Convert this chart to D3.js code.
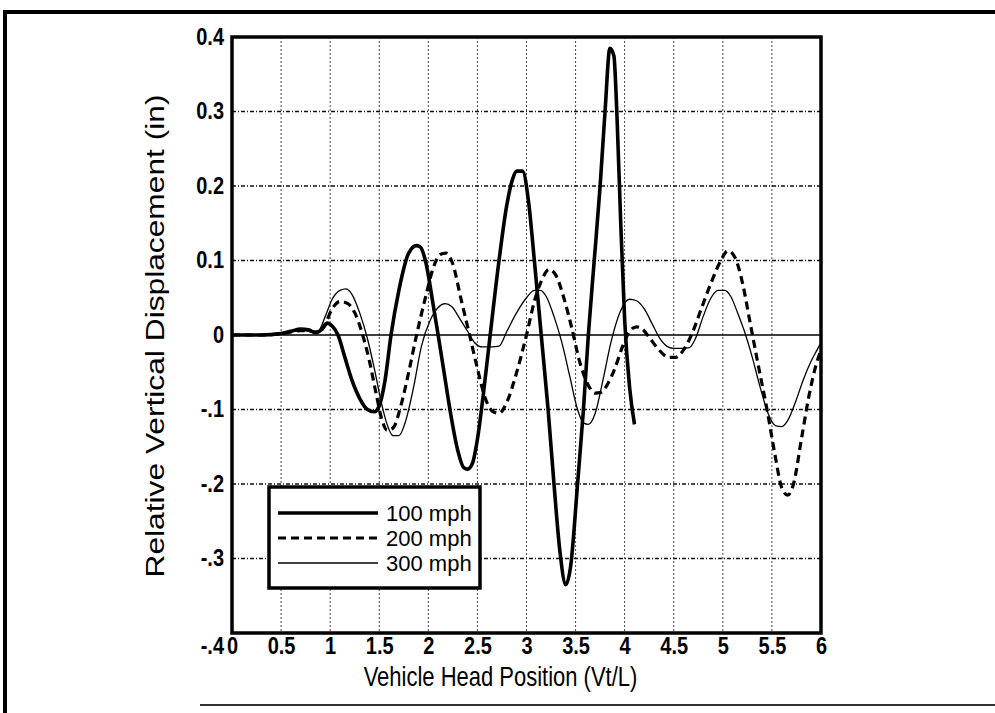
<!DOCTYPE html>
<html>
<head>
<meta charset="utf-8">
<script src="https://cdn.jsdelivr.net/npm/d3@7"></script>
<style>
  html, body { margin: 0; padding: 0; background: #fff; }
  svg { display: block; }
  text { font-family: "Liberation Sans", Arial, sans-serif; fill: #000; }
</style>
</head>
<body>
<svg id="chart" width="995" height="713"></svg>
<script>
// Vehicle head position (Vt/L) and relative vertical displacement (in)
const x100 = [0, 0.3, 0.5, 0.6, 0.7, 0.78, 0.85, 0.92, 0.97, 1.02, 1.08, 1.15, 1.22, 1.3, 1.38, 1.45, 1.5, 1.56, 1.62, 1.7, 1.8, 1.88, 1.92, 1.97, 2.05, 2.1, 2.16, 2.22, 2.3, 2.36, 2.4, 2.45, 2.5, 2.56, 2.63, 2.72, 2.8, 2.86, 2.9, 2.96, 3.02, 3.08, 3.15, 3.22, 3.28, 3.34, 3.4, 3.45, 3.52, 3.58, 3.63, 3.69, 3.75, 3.8, 3.85, 3.89, 3.92, 3.96, 4.0, 4.05, 4.1];
const y100 = [0, 0, 0.002, 0.005, 0.008, 0.007, 0.003, 0.008, 0.016, 0.012, 0, -0.03, -0.06, -0.085, -0.1, -0.103, -0.095, -0.06, 0, 0.06, 0.11, 0.12, 0.118, 0.1, 0.04, 0, -0.05, -0.1, -0.155, -0.178, -0.18, -0.172, -0.14, -0.08, 0, 0.1, 0.175, 0.21, 0.22, 0.22, 0.18, 0.1, 0, -0.1, -0.2, -0.29, -0.335, -0.31, -0.2, -0.1, 0, 0.1, 0.2, 0.3, 0.385, 0.375, 0.3, 0.15, 0.02, -0.07, -0.12];

const x200 = [0, 0.3, 0.5, 0.6, 0.7, 0.8, 0.88, 0.95, 1.02, 1.1, 1.18, 1.25, 1.32, 1.4, 1.47, 1.53, 1.58, 1.64, 1.72, 1.8, 1.88, 1.97, 2.05, 2.12, 2.18, 2.25, 2.33, 2.42, 2.5, 2.58, 2.66, 2.72, 2.8, 2.9, 3.0, 3.08, 3.16, 3.23, 3.3, 3.38, 3.46, 3.54, 3.62, 3.7, 3.76, 3.83, 3.9, 3.98, 4.05, 4.12, 4.18, 4.26, 4.35, 4.45, 4.52, 4.6, 4.68, 4.78, 4.88, 4.98, 5.05, 5.12, 5.2, 5.28, 5.36, 5.45, 5.53, 5.6, 5.66, 5.72, 5.8, 5.88, 5.95, 6.0];
const y200 = [0, 0, 0.002, 0.004, 0.006, 0.005, 0.003, 0.015, 0.035, 0.045, 0.042, 0.03, 0.005, -0.035, -0.08, -0.115, -0.128, -0.125, -0.095, -0.05, 0, 0.05, 0.09, 0.108, 0.11, 0.095, 0.05, 0, -0.045, -0.085, -0.103, -0.105, -0.09, -0.05, 0, 0.045, 0.075, 0.088, 0.08, 0.05, 0.01, -0.035, -0.065, -0.078, -0.077, -0.065, -0.045, -0.015, 0.005, 0.011, 0.008, -0.005, -0.02, -0.03, -0.03, -0.02, 0, 0.035, 0.07, 0.1, 0.113, 0.105, 0.07, 0.015, -0.04, -0.1, -0.16, -0.205, -0.215, -0.2, -0.14, -0.08, -0.04, -0.02];

const x300 = [0, 0.3, 0.5, 0.6, 0.7, 0.8, 0.88, 0.95, 1.02, 1.1, 1.16, 1.22, 1.3, 1.38, 1.45, 1.52, 1.58, 1.64, 1.7, 1.77, 1.85, 1.93, 2.02, 2.1, 2.17, 2.24, 2.32, 2.4, 2.47, 2.55, 2.65, 2.72, 2.8, 2.9, 3.0, 3.08, 3.14, 3.2, 3.28, 3.36, 3.44, 3.52, 3.58, 3.63, 3.7, 3.78, 3.86, 3.95, 4.05, 4.12, 4.2, 4.28, 4.36, 4.44, 4.5, 4.58, 4.66, 4.72, 4.8, 4.88, 4.95, 5.02, 5.08, 5.15, 5.22, 5.3, 5.38, 5.46, 5.54, 5.6, 5.66, 5.74, 5.82, 5.9, 5.96, 6.0];
const y300 = [0, 0, 0.002, 0.004, 0.006, 0.005, 0.006, 0.025, 0.048, 0.06, 0.062, 0.055, 0.03, -0.005, -0.045, -0.09, -0.12, -0.135, -0.135, -0.115, -0.07, -0.015, 0.02, 0.037, 0.042, 0.038, 0.022, 0.005, -0.01, -0.016, -0.016, -0.015, 0.005, 0.03, 0.05, 0.06, 0.06, 0.052, 0.025, -0.01, -0.055, -0.1, -0.118, -0.12, -0.105, -0.06, -0.01, 0.03, 0.048, 0.046, 0.035, 0.015, -0.005, -0.016, -0.018, -0.018, -0.017, -0.005, 0.025, 0.05, 0.06, 0.06, 0.052, 0.03, 0.005, -0.03, -0.07, -0.105, -0.122, -0.123, -0.115, -0.09, -0.06, -0.035, -0.02, -0.01];

const seriesNames = ["100 mph", "200 mph", "300 mph"];
const xTicks = [0, 0.5, 1, 1.5, 2, 2.5, 3, 3.5, 4, 4.5, 5, 5.5, 6];
const xTickLabels = ["0", "0.5", "1", "1.5", "2", "2.5", "3", "3.5", "4", "4.5", "5", "5.5", "6"];
const yTicks = [0.4, 0.3, 0.2, 0.1, 0, -0.1, -0.2, -0.3, -0.4];
const yTickLabels = ["0.4", "0.3", "0.2", "0.1", "0", "-.1", "-.2", "-.3", "-.4"];
const xTitle = "Vehicle Head Position (Vt/L)";
const yTitle = "Relative Vertical Displacement (in)";

const svg = d3.select("#chart");
const plot = { left: 232, right: 821, top: 37, bottom: 633 };
const labelRowY = 646; // vertical centre of the x tick labels

const x = d3.scaleLinear().domain([0, 6]).range([plot.left, plot.right]);
const y = d3.scaleLinear().domain([-0.4, 0.4]).range([plot.bottom, plot.top]);

// outer frame
svg.append("line").attr("x1", 5).attr("x2", 995).attr("y1", 12).attr("y2", 12)
  .attr("stroke", "#000").attr("stroke-width", 4);
svg.append("line").attr("x1", 5).attr("x2", 5).attr("y1", 10).attr("y2", 713)
  .attr("stroke", "#000").attr("stroke-width", 4);
svg.append("line").attr("x1", 200).attr("x2", 995).attr("y1", 705).attr("y2", 705)
  .attr("stroke", "#333").attr("stroke-width", 2);

// grid
const grid = svg.append("g");
grid.selectAll(".vg").data(xTicks.filter(d => d > 0 && d < 6)).join("line")
  .attr("x1", d => x(d)).attr("x2", d => x(d))
  .attr("y1", plot.top).attr("y2", plot.bottom)
  .attr("stroke", "#444").attr("stroke-width", 1).attr("stroke-dasharray", "2,2");
grid.selectAll(".hg").data(yTicks.filter(d => d !== 0 && d > -0.4 && d < 0.4)).join("line")
  .attr("x1", plot.left).attr("x2", plot.right)
  .attr("y1", d => y(d)).attr("y2", d => y(d))
  .attr("stroke", "#111").attr("stroke-width", 1.3).attr("stroke-dasharray", "4,2,1,2");
grid.append("line")
  .attr("x1", plot.left).attr("x2", plot.right)
  .attr("y1", y(0)).attr("y2", y(0))
  .attr("stroke", "#000").attr("stroke-width", 1.6);

// series
const line = d3.line().x(d => x(d[0])).y(d => y(d[1])).curve(d3.curveMonotoneX);
const zip = (xs, ys) => xs.map((v, i) => [v, ys[i]]);
const styles = [
  { w: 3.6, dash: null },
  { w: 3.2, dash: "8,5" },
  { w: 1.3, dash: null }
];
const data = [zip(x100, y100), zip(x200, y200), zip(x300, y300)];
svg.append("g").selectAll("path").data(data).join("path")
  .attr("d", line)
  .attr("fill", "none")
  .attr("stroke", "#000")
  .attr("stroke-width", (d, i) => styles[i].w)
  .attr("stroke-dasharray", (d, i) => styles[i].dash)
  .attr("stroke-linejoin", "round");

// plot frame
svg.append("rect")
  .attr("x", plot.left).attr("y", plot.top)
  .attr("width", plot.right - plot.left).attr("height", plot.bottom - plot.top)
  .attr("fill", "none").attr("stroke", "#000").attr("stroke-width", 3.5);

// tick labels (slightly tall glyphs)
const yAxis = d3.axisLeft(y).tickValues(yTicks)
  .tickFormat((d, i) => yTickLabels[i]).tickSize(0).tickPadding(8);
const gy = svg.append("g").attr("transform", `translate(${plot.left},0)`).call(yAxis);
gy.select(".domain").remove();
gy.selectAll(".tick").each(function (d) {
  const ty = d === -0.4 ? labelRowY : y(d);
  d3.select(this).attr("transform", `translate(0,${ty})`);
});
gy.selectAll("text").attr("font-size", 20).attr("font-weight", "bold")
  .attr("font-family", "Liberation Sans, Arial, sans-serif")
  .attr("transform", "scale(1,1.18)");

const xAxis = d3.axisBottom(x).tickValues(xTicks)
  .tickFormat((d, i) => xTickLabels[i]).tickSize(0).tickPadding(0);
const gx = svg.append("g").attr("transform", `translate(0,${labelRowY})`).call(xAxis);
gx.select(".domain").remove();
gx.selectAll("text").attr("font-size", 20).attr("font-weight", "bold")
  .attr("font-family", "Liberation Sans, Arial, sans-serif")
  .attr("y", 0).attr("dy", "0.35em")
  .attr("transform", "scale(1,1.18)");

svg.append("text")
  .attr("transform", `translate(${(plot.left + plot.right) / 2 - 26},686) scale(1,1.22)`)
  .attr("text-anchor", "middle").attr("font-size", 22)
  .text(xTitle);
svg.append("text")
  .attr("transform", `translate(164,${(plot.top + plot.bottom) / 2 + 1}) rotate(-90) scale(1.22,1)`)
  .attr("text-anchor", "middle").attr("font-size", 26)
  .text(yTitle);

// legend
const lg = svg.append("g");
lg.append("rect").attr("x", 269).attr("y", 487).attr("width", 211).attr("height", 101)
  .attr("fill", "#fff").attr("stroke", "#000").attr("stroke-width", 3.5);
const lgRows = lg.selectAll("g").data(seriesNames).join("g")
  .attr("transform", (d, i) => `translate(0,${513 + i * 25})`);
lgRows.append("line").attr("x1", 278).attr("x2", 378).attr("y1", 0).attr("y2", 0)
  .attr("stroke", "#000")
  .attr("stroke-width", (d, i) => styles[i].w)
  .attr("stroke-dasharray", (d, i) => styles[i].dash);
lgRows.append("text").attr("x", 386).attr("y", 0).attr("dy", "0.35em")
  .attr("font-size", 22)
  .text(d => d);
</script>
</body>
</html>
